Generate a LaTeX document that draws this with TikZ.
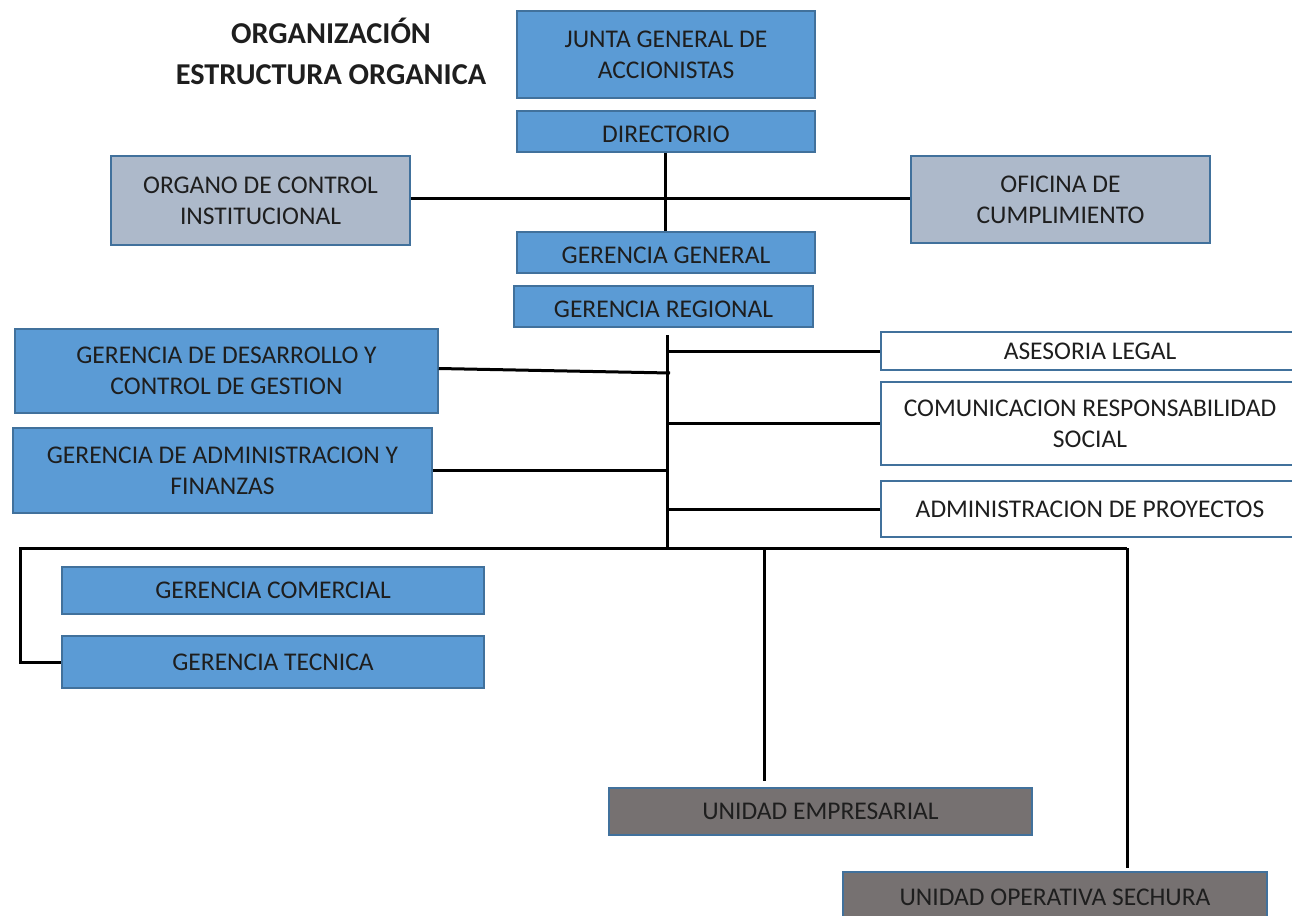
\documentclass[tikz,border=0pt]{standalone}
\usepackage{fontspec}
\setmainfont{Carlito}
\definecolor{boxblue}{HTML}{5B9BD5}
\definecolor{boxedge}{HTML}{41719C}
\definecolor{boxgray}{HTML}{ADB9CA}
\definecolor{boxdark}{HTML}{767171}
\definecolor{txt}{HTML}{1E1E1E}
\tikzset{
  orgbox/.style={draw=boxedge, line width=1.5pt, inner sep=0pt, align=center,
    text=txt, font=\fontsize{25.5}{31}\selectfont},
  bluebox/.style={orgbox, fill=boxblue},
  graybox/.style={orgbox, fill=boxgray},
  darkbox/.style={orgbox, fill=boxdark},
  whitebox/.style={orgbox, fill=white},
  wire/.style={draw=black, line width=3pt},
  titletext/.style={text=txt, font=\bfseries\fontsize{30.3}{36}\selectfont, inner sep=0pt}
}
\newcommand{\lowr}[1]{\raisebox{-3pt}[16.5pt][0pt]{#1}}
\begin{document}
\begin{tikzpicture}[x=1pt,y=-1pt]
\useasboundingbox (0,0) rectangle (1292,915);
% title
\node[titletext] (t1) at (331,31) {ORGANIZACIÓN};
\node[titletext] (t2) at (331,75) {ESTRUCTURA ORGANICA};
% boxes
\node[bluebox, minimum width=298pt, minimum height=87pt] (junta) at (666,54.5) {JUNTA GENERAL DE\\ACCIONISTAS};
\node[bluebox, minimum width=298pt, minimum height=41pt] (dir) at (666,131.5) {\lowr{DIRECTORIO}};
\node[bluebox, minimum width=298pt, minimum height=41pt] (ggen) at (666,252.5) {\lowr{GERENCIA GENERAL}};
\node[bluebox, minimum width=299pt, minimum height=41pt] (greg) at (663.5,306.5) {\lowr{GERENCIA REGIONAL}};
\node[graybox, minimum width=299pt, minimum height=89pt] (organo) at (260.5,200.5) {ORGANO DE CONTROL\\INSTITUCIONAL};
\node[graybox, minimum width=299pt, minimum height=87pt] (oficina) at (1060.5,199.5) {OFICINA DE\\CUMPLIMIENTO};
\node[whitebox, minimum width=418pt, minimum height=38pt] (ases) at (1090,351) {ASESORIA LEGAL};
\node[whitebox, minimum width=418pt, minimum height=83pt] (comu) at (1090,423.5) {COMUNICACION RESPONSABILIDAD\\SOCIAL};
\node[whitebox, minimum width=418pt, minimum height=56pt] (aproy) at (1090,509) {ADMINISTRACION DE PROYECTOS};
\node[bluebox, minimum width=423pt, minimum height=84pt] (gdes) at (226.5,371) {GERENCIA DE DESARROLLO Y\\CONTROL DE GESTION};
\node[bluebox, minimum width=419pt, minimum height=85pt] (gadm) at (222.5,470.5) {GERENCIA DE ADMINISTRACION Y\\FINANZAS};
\node[bluebox, minimum width=422pt, minimum height=47pt] (gcom) at (273,590.5) {GERENCIA COMERCIAL};
\node[bluebox, minimum width=422pt, minimum height=52pt] (gtec) at (273,662) {GERENCIA TECNICA};
\node[darkbox, minimum width=423pt, minimum height=47pt] (uemp) at (820.5,811.5) {UNIDAD EMPRESARIAL};
\node[darkbox, minimum width=424pt, minimum height=50pt] (uope) at (1055,897) {UNIDAD OPERATIVA SECHURA};
% coordinates
\coordinate (spt) at (667,335);
\coordinate (spb) at (667,548);
\coordinate (busl) at (20,548);
\coordinate (busr) at (1127,548);
\coordinate (empt) at (764,548);
\coordinate (empb) at (764,781);
\coordinate (opeb) at (1127,868);
\coordinate (ctl) at (665,198);
% connectors
\draw[wire] (dir.south -| ctl) -- (ggen.north -| ctl);
\draw[wire] (organo.east |- ctl) -- (oficina.west |- ctl);
\draw[wire] (spt) -- (spb);
\draw[wire] (spt |- ases.west) -- (ases.west);
\draw[wire] (spt |- comu.west) -- (comu.west);
\draw[wire] (spt |- aproy.west) -- (aproy.west);
\draw[wire] ([yshift=2.5pt]gdes.east) -- ([xshift=3pt,yshift=-2pt]gdes.east -| spt);
\draw[wire] (gadm.east) -- (gadm.east -| spt);
\draw[wire, line join=miter] (busr) -- (busl) -- (busl |- gtec.west) -- (gtec.west);
\draw[wire] (empt) -- (empb);
\draw[wire] (busr) -- (opeb);
\end{tikzpicture}
\end{document}
